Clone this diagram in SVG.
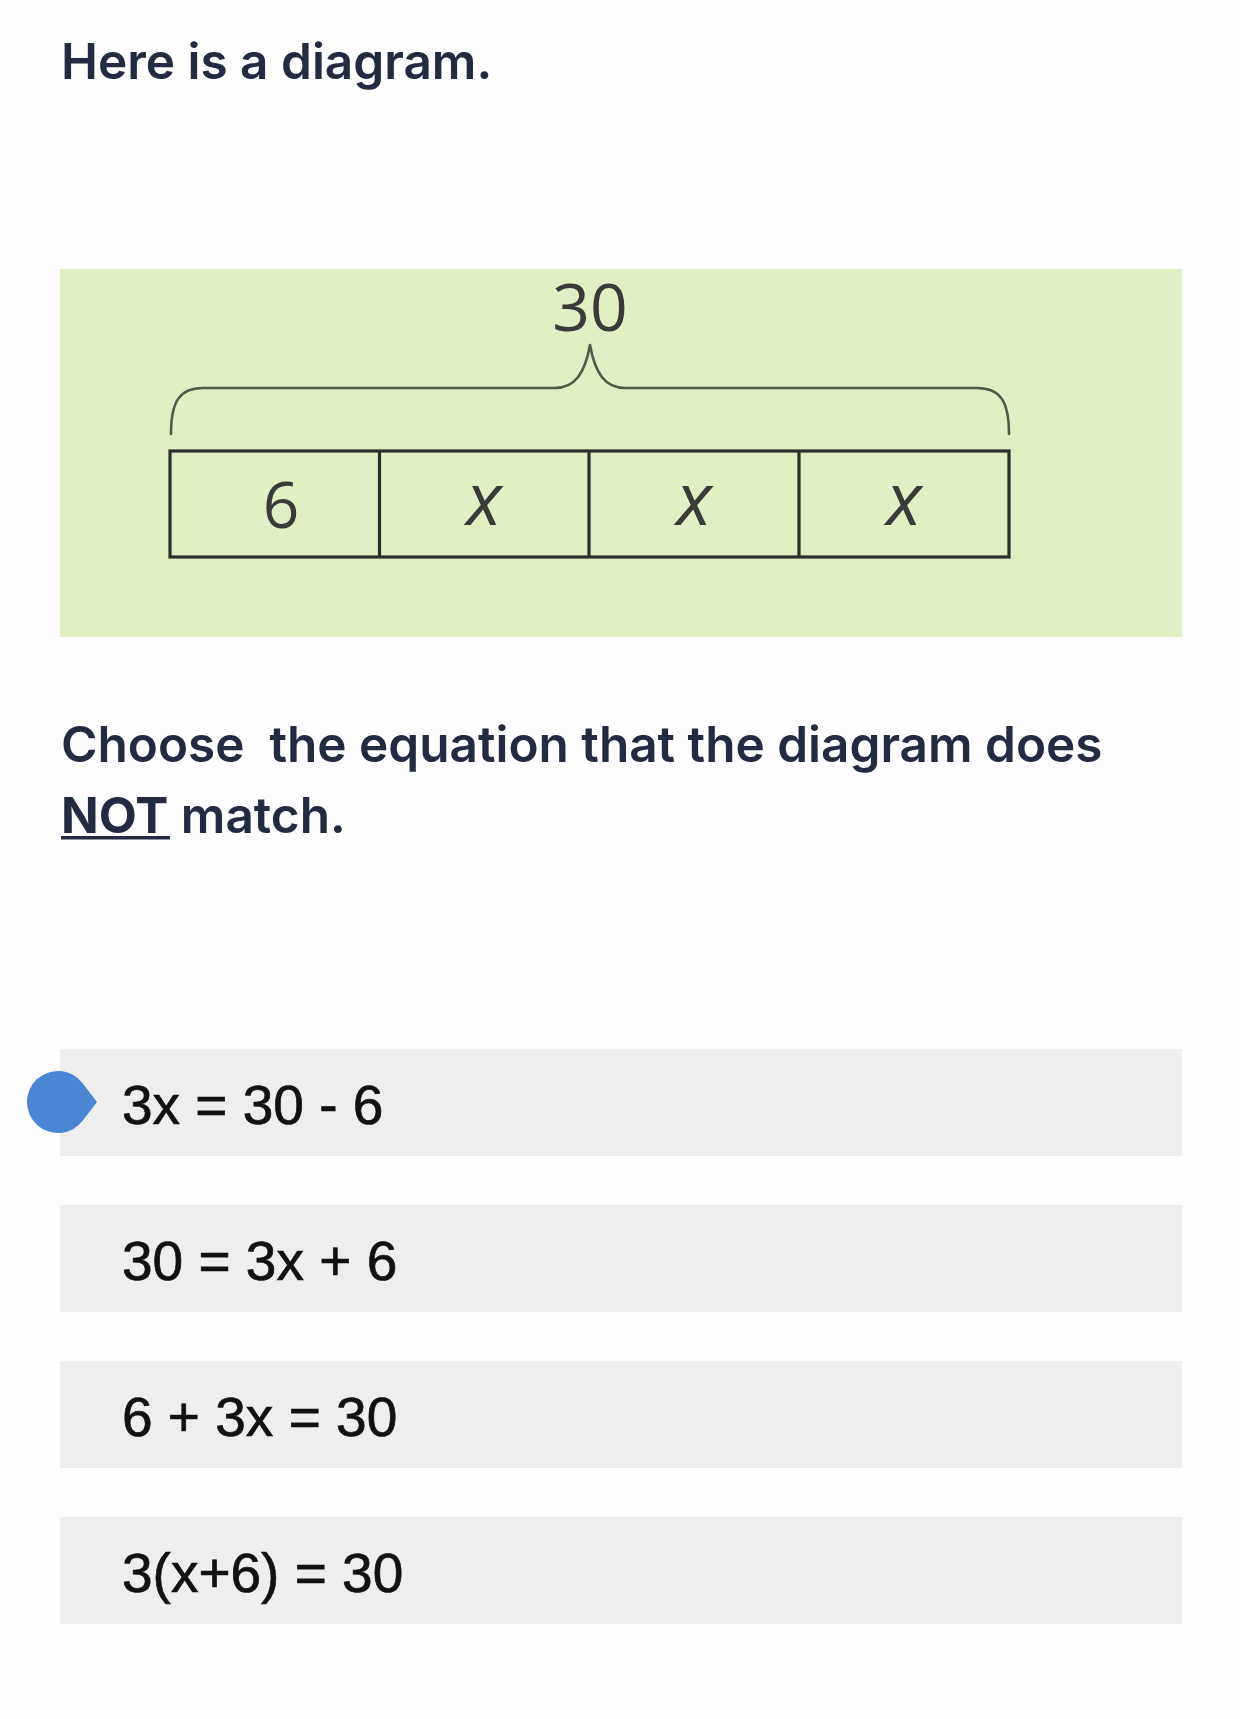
<svg xmlns="http://www.w3.org/2000/svg" width="1240" height="1719" viewBox="0 0 1240 1719">
<style>
.head{font-family:Inter,"Noto Sans",sans-serif;font-weight:600;fill:#222b3f;font-size:49.5px}
.opt{fill:#eeeeee}
.eq{font-family:"Liberation Sans",Arial,sans-serif;font-size:55px;fill:#111111;stroke:#111111;stroke-width:0.7}
.dg{font-family:"Open Sans","Noto Sans",sans-serif;fill:#3a3a3a;font-weight:400}
.cell{fill:none;stroke:#2e2e2e;stroke-width:3.2}
.brace{fill:none;stroke:#4f5a48;stroke-width:2.6;stroke-linecap:round;stroke-linejoin:round}
</style>
<rect width="1240" height="1719" fill="#fdfdfd"/>
<text class="head" x="61" y="79">Here is a diagram.</text>
<g id="diagram">
<rect x="60" y="269" width="1122" height="368" fill="#e1f0c4"/>
<text class="dg" x="590" y="331" font-size="66" text-anchor="middle">30</text>
<path class="brace" d="M171 434 C171 401 180 388 203 388 L555 388 C575 388 585 373 590 345 C595 373 605 388 625 388 L977 388 C1000 388 1009 401 1009 434"/>
<rect class="cell" x="170" y="451" width="839" height="106"/>
<line class="cell" x1="379.5" y1="451" x2="379.5" y2="557"/>
<line class="cell" x1="589" y1="451" x2="589" y2="557"/>
<line class="cell" x1="799" y1="451" x2="799" y2="557"/>
<text class="dg" x="281" y="528" font-size="64" text-anchor="middle">6</text>
<text class="dg" x="484" y="525" font-size="74" font-style="italic" text-anchor="middle">x</text>
<text class="dg" x="694" y="525" font-size="74" font-style="italic" text-anchor="middle">x</text>
<text class="dg" x="904" y="525" font-size="74" font-style="italic" text-anchor="middle">x</text>
</g>
<g id="question">
<text class="head" x="61" y="762" xml:space="preserve">Choose  the equation that the diagram does</text>
<text class="head" x="61" y="833"><tspan font-weight="700">NOT</tspan> match.</text>
<rect x="61" y="836" width="109" height="3.5" fill="#222b3f"/>
</g>
<g id="option1">
<rect class="opt" x="60" y="1049" width="1122" height="107"/>
<text class="eq" x="122" y="1124">3x = 30 - 6</text>
</g>
<g id="option2">
<rect class="opt" x="60" y="1205" width="1122" height="107"/>
<text class="eq" x="122" y="1280">30 = 3x + 6</text>
</g>
<g id="option3">
<rect class="opt" x="60" y="1361" width="1122" height="107"/>
<text class="eq" x="122" y="1436">6 + 3x = 30</text>
</g>
<g id="option4">
<rect class="opt" x="60" y="1517" width="1122" height="107"/>
<text class="eq" x="122" y="1592">3(x+6) = 30</text>
</g>
<g id="radio">
<path d="M97 1102 L82.6 1083.2 A31 31 0 1 0 82.6 1120.8 Z" fill="#4a86d3"/>
</g>
</svg>
